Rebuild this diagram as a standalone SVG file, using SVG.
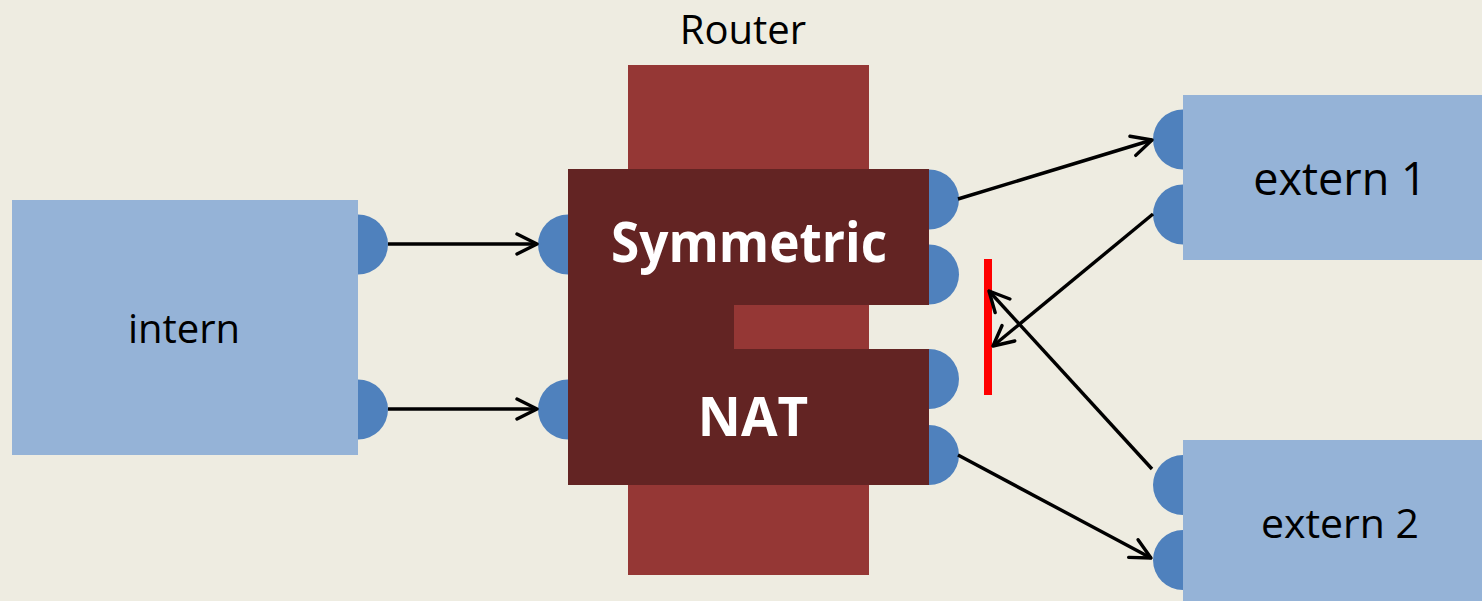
<svg xmlns="http://www.w3.org/2000/svg" width="1482" height="601" viewBox="0 0 1482 601">
<defs>
<style>
.box{fill:#95B3D7}
.port{fill:#4F81BD}
.lbl{font-family:"Open Sans","Liberation Sans",sans-serif;fill:#000;text-anchor:middle}
.bold{font-family:"Open Sans","Liberation Sans",sans-serif;font-weight:bold;fill:#fff;text-anchor:middle}
.conn{stroke:#000;stroke-width:3.4;fill:none;marker-end:url(#arr)}
</style>
<marker id="arr" viewBox="0 0 24 24" refX="22" refY="12" markerWidth="24" markerHeight="24" markerUnits="userSpaceOnUse" orient="auto">
<path d="M2,2 L22,12 L2,22" fill="none" stroke="#000" stroke-width="3.4" stroke-linecap="round" stroke-linejoin="round"/>
</marker>
</defs>
<rect width="1482" height="601" fill="#EEECE1"/>

<g id="router">
<rect x="628" y="65" width="241" height="510" fill="#953735"/>
<path d="M568,169 H929 V305 H734 V349 H929 V485 H568 Z" fill="#632423"/>
<text class="lbl" x="743" y="44" font-size="40">Router</text>
<text class="bold" x="749" y="262" font-size="56" textLength="276" lengthAdjust="spacingAndGlyphs">Symmetric</text>
<text class="bold" x="753" y="436" font-size="53">NAT</text>
<path class="port" d="M568,214.5 A30,30 0 0 0 568,274.5 Z"/>
<path class="port" d="M568,379.5 A30,30 0 0 0 568,439.5 Z"/>
<path class="port" d="M929,169.5 A30,30 0 0 1 929,229.5 Z"/>
<path class="port" d="M929,244.5 A30,30 0 0 1 929,304.5 Z"/>
<path class="port" d="M929,349 A30,30 0 0 1 929,409 Z"/>
<path class="port" d="M929,425 A30,30 0 0 1 929,485 Z"/>
</g>

<g id="intern">
<rect class="box" x="12" y="200" width="346" height="255"/>
<text class="lbl" x="184" y="343" font-size="40">intern</text>
<path class="port" d="M358,214.5 A30,30 0 0 1 358,274.5 Z"/>
<path class="port" d="M358,379.5 A30,30 0 0 1 358,439.5 Z"/>
</g>

<g id="extern1">
<rect class="box" x="1183" y="95" width="299" height="165"/>
<text class="lbl" x="1340" y="195" font-size="45">extern 1</text>
<path class="port" d="M1183,109.5 A30,30 0 0 0 1183,169.5 Z"/>
<path class="port" d="M1183,184.5 A30,30 0 0 0 1183,244.5 Z"/>
</g>

<g id="extern2">
<rect class="box" x="1183" y="440" width="299" height="161"/>
<text class="lbl" x="1340" y="538" font-size="41">extern 2</text>
<path class="port" d="M1183,455 A30,30 0 0 0 1183,515 Z"/>
<path class="port" d="M1183,530 A30,30 0 0 0 1183,590 Z"/>
</g>

<g id="block">
<rect x="984" y="259" width="8" height="136" fill="#FF0000"/>
</g>

<g id="connectors">
<line class="conn" x1="388" y1="244" x2="537" y2="244"/>
<line class="conn" x1="388" y1="409" x2="537" y2="409"/>
<line class="conn" x1="958" y1="199" x2="1152" y2="140"/>
<line class="conn" x1="1153" y1="214" x2="993" y2="346"/>
<line class="conn" x1="1152" y1="469" x2="989" y2="291"/>
<line class="conn" x1="958" y1="455" x2="1151" y2="558"/>
</g>
</svg>
